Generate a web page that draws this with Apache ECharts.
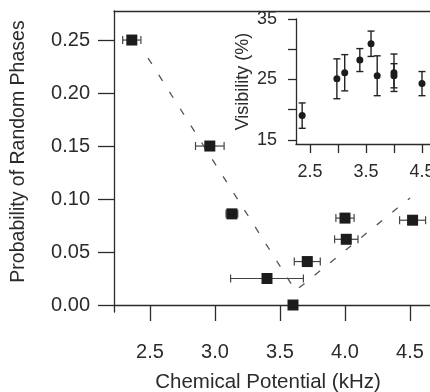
<!DOCTYPE html>
<html>
<head>
<meta charset="utf-8">
<script src="https://cdn.jsdelivr.net/npm/echarts@6/dist/echarts.min.js"></script>
<style>
  html, body { margin: 0; padding: 0; background: #fff; }
  #chart { width: 430px; height: 392px; }
</style>
</head>
<body>
<div id="chart"></div>
<script>
// Main panel: probability of random phases vs chemical potential
const potential   = [2.36, 2.96, 3.13, 4.00, 4.52, 4.01, 3.71, 3.40, 3.60];
const probability = [0.250, 0.150, 0.086, 0.082, 0.080, 0.062, 0.041, 0.025, 0.000];
const potentialErr = [0.07, 0.11, 0.045, 0.07, 0.10, 0.09, 0.10, 0.28, 0.0];

// Guide to the eye (dashed V)
const guideX = [2.485, 3.62, 4.50];
const guideY = [0.233, 0.0135, 0.101];

// Inset: visibility vs chemical potential
const insetX   = [2.36, 2.98, 3.12, 3.39, 3.59, 3.70, 4.00, 4.00, 4.50];
const visibility = [19.0, 25.1, 26.1, 28.2, 30.9, 25.6, 26.1, 25.6, 24.3];
const visibilityErr = [2.1, 3.3, 3.0, 1.9, 2.1, 3.3, 3.1, 2.0, 2.0];

// Tick labels
const mainXTicks = [2.5, 3.0, 3.5, 4.0, 4.5];
const mainYTicks = [0.00, 0.05, 0.10, 0.15, 0.20, 0.25];
const insetXTicks = [2.5, 3.0, 3.5, 4.0, 4.5];
const insetXLabels = [2.5, 3.5, 4.5];
const insetYTicks = [15, 20, 25, 30, 35];
const insetYLabels = [15, 25, 35];

const ink = '#2b2b2b';
const font = 'Liberation Sans, Arial, Helvetica, sans-serif';

function hErrorBar(params, api) {
  const x = api.value(0), y = api.value(1), e = api.value(2);
  if (!e) return null;
  const lo = api.coord([x - e, y]);
  const hi = api.coord([x + e, y]);
  const cap = 4;
  const st = { stroke: '#444', lineWidth: 1.2 };
  return {
    type: 'group',
    children: [
      { type: 'line', shape: { x1: lo[0], y1: lo[1], x2: hi[0], y2: hi[1] }, style: st },
      { type: 'line', shape: { x1: lo[0], y1: lo[1] - cap, x2: lo[0], y2: lo[1] + cap }, style: st },
      { type: 'line', shape: { x1: hi[0], y1: hi[1] - cap, x2: hi[0], y2: hi[1] + cap }, style: st }
    ]
  };
}

function vErrorBar(params, api) {
  const x = api.value(0), y = api.value(1), e = api.value(2);
  const lo = api.coord([x, y - e]);
  const hi = api.coord([x, y + e]);
  const cap = 3.5;
  const st = { stroke: '#222', lineWidth: 1.4 };
  return {
    type: 'group',
    children: [
      { type: 'line', shape: { x1: lo[0], y1: lo[1], x2: hi[0], y2: hi[1] }, style: st },
      { type: 'line', shape: { x1: lo[0] - cap, y1: lo[1], x2: lo[0] + cap, y2: lo[1] }, style: st },
      { type: 'line', shape: { x1: hi[0] - cap, y1: hi[1], x2: hi[0] + cap, y2: hi[1] }, style: st }
    ]
  };
}

const chart = echarts.init(document.getElementById('chart'), null, { renderer: 'canvas' });

const axisLine = { show: true, lineStyle: { color: ink, width: 1.3 } };

chart.setOption({
  animation: false,
  backgroundColor: '#fff',
  textStyle: { fontFamily: font, color: ink },
  grid: [
    { left: 114, top: 11, right: 0, bottom: 80, containLabel: false, outerBoundsMode: 'none' },
    { left: 296, top: 19, right: 0, bottom: 248, containLabel: false, outerBoundsMode: 'none' }
  ],
  xAxis: [
    {
      gridIndex: 0, type: 'value', min: 2.223, max: 4.654,
      axisLine: axisLine,
      axisTick: { show: true, length: 16, inside: false, customValues: mainXTicks, lineStyle: { color: ink, width: 1.3 } },
      axisLabel: { customValues: mainXTicks, margin: 30, fontSize: 20, color: ink, fontFamily: font,
                   formatter: v => v.toFixed(1) },
      splitLine: { show: false },
      name: 'Chemical Potential (kHz)', nameLocation: 'middle', nameGap: 60,
      nameTextStyle: { fontSize: 20.5, color: ink, fontFamily: font, padding: [0, 8, 0, 0] }
    },
    {
      // top frame line of the main panel
      gridIndex: 0, type: 'value', position: 'top', min: 2.223, max: 4.654,
      axisLine: axisLine, axisTick: { show: false }, axisLabel: { show: false }, splitLine: { show: false }
    },
    {
      gridIndex: 1, type: 'value', min: 2.25, max: 4.643,
      axisLine: axisLine,
      axisTick: { show: true, length: 9, customValues: insetXTicks, lineStyle: { color: ink, width: 1.3 } },
      axisLabel: { customValues: insetXLabels, margin: 19, fontSize: 18, color: ink, fontFamily: font,
                   formatter: v => v.toFixed(1) },
      splitLine: { show: false }
    }
  ],
  yAxis: [
    {
      gridIndex: 0, type: 'value', min: -0.0066, max: 0.2774,
      axisLine: axisLine,
      axisTick: { show: true, length: 16, customValues: mainYTicks, lineStyle: { color: ink, width: 1.3 } },
      axisLabel: { customValues: mainYTicks, margin: 24, fontSize: 20, color: ink, fontFamily: font,
                   formatter: v => v.toFixed(2) },
      splitLine: { show: false },
      name: 'Probability of Random Phases', nameLocation: 'middle', nameGap: 85,
      nameTextStyle: { fontSize: 19.5, color: ink, fontFamily: font, padding: [0, 0, 0, 20] }
    },
    {
      gridIndex: 1, type: 'value', min: 14.3, max: 35,
      axisLine: axisLine,
      axisTick: { show: true, length: 8, customValues: insetYTicks, lineStyle: { color: ink, width: 1.3 } },
      axisLabel: { customValues: insetYLabels, margin: 19, fontSize: 18, color: ink, fontFamily: font },
      splitLine: { show: false },
      name: 'Visibility (%)', nameLocation: 'middle', nameGap: 44,
      nameTextStyle: { fontSize: 18, color: ink, fontFamily: font }
    }
  ],
  series: [
    {
      type: 'line', xAxisIndex: 0, yAxisIndex: 0,
      data: guideX.map((x, i) => [x, guideY[i]]),
      symbol: 'none', silent: true,
      lineStyle: { color: '#555', width: 1.3, type: [7, 13] }
    },
    {
      type: 'custom', xAxisIndex: 0, yAxisIndex: 0,
      data: potential.map((x, i) => [x, probability[i], potentialErr[i]]),
      encode: { x: 0, y: 1 },
      renderItem: hErrorBar, z: 3
    },
    {
      type: 'scatter', xAxisIndex: 0, yAxisIndex: 0,
      data: potential.map((x, i) => [x, probability[i]]),
      symbol: 'rect', symbolSize: 11, z: 4,
      itemStyle: { color: '#1c1c1c', opacity: 1 }
    },
    {
      type: 'custom', xAxisIndex: 2, yAxisIndex: 1,
      data: insetX.map((x, i) => [x, visibility[i], visibilityErr[i]]),
      encode: { x: 0, y: 1 },
      renderItem: vErrorBar, z: 3
    },
    {
      type: 'scatter', xAxisIndex: 2, yAxisIndex: 1,
      data: insetX.map((x, i) => [x, visibility[i]]),
      symbol: 'circle', symbolSize: 7, z: 4,
      itemStyle: { color: '#1c1c1c', opacity: 1 }
    }
  ]
});
</script>
</body>
</html>
